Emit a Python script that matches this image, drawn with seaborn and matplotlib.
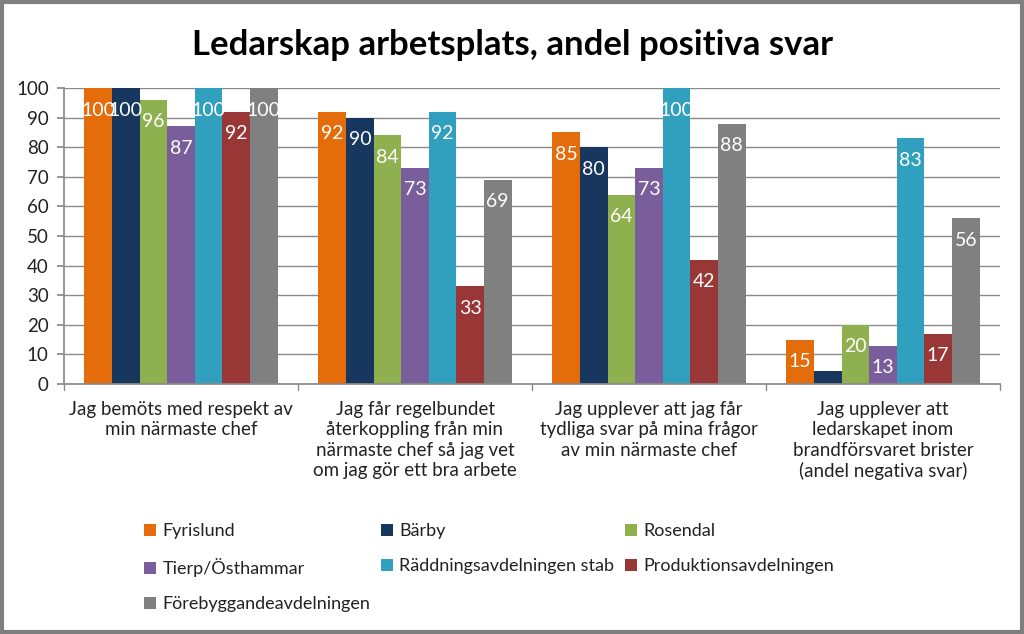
import matplotlib
matplotlib.use("Agg")
import matplotlib.pyplot as plt
import seaborn as sns
import pandas as pd
from matplotlib.patches import Rectangle, Patch

categories = [
    "Jag bemöts med respekt av\nmin närmaste chef",
    "Jag får regelbundet\nåterkoppling från min\nnärmaste chef så jag vet\nom jag gör ett bra arbete",
    "Jag upplever att jag får\ntydliga svar på mina frågor\nav min närmaste chef",
    "Jag upplever att\nledarskapet inom\nbrandförsvaret brister\n(andel negativa svar)",
]
series = ["Fyrislund", "Bärby", "Rosendal", "Tierp/Östhammar",
          "Räddningsavdelningen stab", "Produktionsavdelningen",
          "Förebyggandeavdelningen"]
fyrislund = [100, 92, 85, 15]
barby = [100, 90, 80, 4.5]
rosendal = [96, 84, 64, 20]
tierp = [87, 73, 73, 13]
raddning = [100, 92, 100, 83]
produktion = [92, 33, 42, 17]
forebygg = [100, 69, 88, 56]
values = [fyrislund, barby, rosendal, tierp, raddning, produktion, forebygg]
colors = ["#E46C0A", "#17375E", "#8EB04F", "#7A5E9C", "#31A0BE", "#983735", "#808080"]

rows = []
for s, vals in zip(series, values):
    for c, v in zip(categories, vals):
        rows.append({"cat": c, "series": s, "val": v})
df = pd.DataFrame(rows)

sns.set_theme(style="white")
plt.rcParams["font.family"] = ["Lato", "DejaVu Sans"]

fig = plt.figure(figsize=(10.24, 6.34), dpi=100)
ax = fig.add_axes([64/1024, 1 - 384/634, 936/1024, 296/634])

sns.barplot(data=df, x="cat", y="val", hue="series", palette=colors,
            saturation=1, width=0.825, ax=ax, legend=False, order=categories,
            hue_order=series, edgecolor="none", linewidth=0)

ax.set_ylim(0, 100)
ax.set_xlim(-0.5, 3.5)
ax.set_yticks(range(0, 101, 10))
ax.set_yticklabels([str(v) for v in range(0, 101, 10)], fontsize=13.5, color="#222222")
ax.yaxis.grid(True, color="#8a8a8a", linewidth=1)
ax.set_axisbelow(True)
ax.set_xlabel("")
ax.set_ylabel("")
ax.set_xticks(range(4))
ax.set_xticklabels(categories, fontsize=13.5, color="#222222", linespacing=1.25)
ax.tick_params(axis="x", length=0, pad=12)
ax.tick_params(axis="y", length=5, color="#8a8a8a", direction="out", left=True, pad=6)
for sp in ["top", "right"]:
    ax.spines[sp].set_visible(False)
ax.spines["left"].set_color("#8a8a8a")
ax.spines["bottom"].set_color("#8a8a8a")

# category separators below x axis
for xb in [-0.5, 0.5, 1.5, 2.5, 3.5]:
    ax.plot([xb, xb], [0, -2], color="#8a8a8a", lw=1, clip_on=False)

for cont in ax.containers:
    for bar in cont:
        h = bar.get_height()
        if h < 8:
            continue
        ax.annotate(f"{h:.0f}", (bar.get_x() + bar.get_width()/2, h),
                    xytext=(0, -22), textcoords="offset pixels",
                    ha="center", va="center", color="white", fontsize=14)

fig.text(0.5, 1 - 45/634, "Ledarskap arbetsplats, andel positiva svar",
         ha="center", va="center", fontsize=25, fontweight="bold", color="black")

handles = [Patch(facecolor=c, edgecolor="none") for c in colors]
order = [0, 3, 6, 1, 4, 2, 5]
leg = fig.legend([handles[i] for i in order], [series[i] for i in order],
                 loc="upper left", bbox_to_anchor=(128/1024, 1 - 507/634),
                 ncol=3, frameon=False, fontsize=13, handlelength=0.65, handleheight=0.65,
                 handletextpad=0.35, columnspacing=0.6, labelspacing=1.05)
for t in leg.get_texts():
    t.set_color("#222222")

fig.patches.append(Rectangle((0.002, 0.003), 0.996, 0.994, transform=fig.transFigure,
                             fill=False, edgecolor="#7f7f7f", linewidth=3))

fig.savefig("out.png", dpi=100)
